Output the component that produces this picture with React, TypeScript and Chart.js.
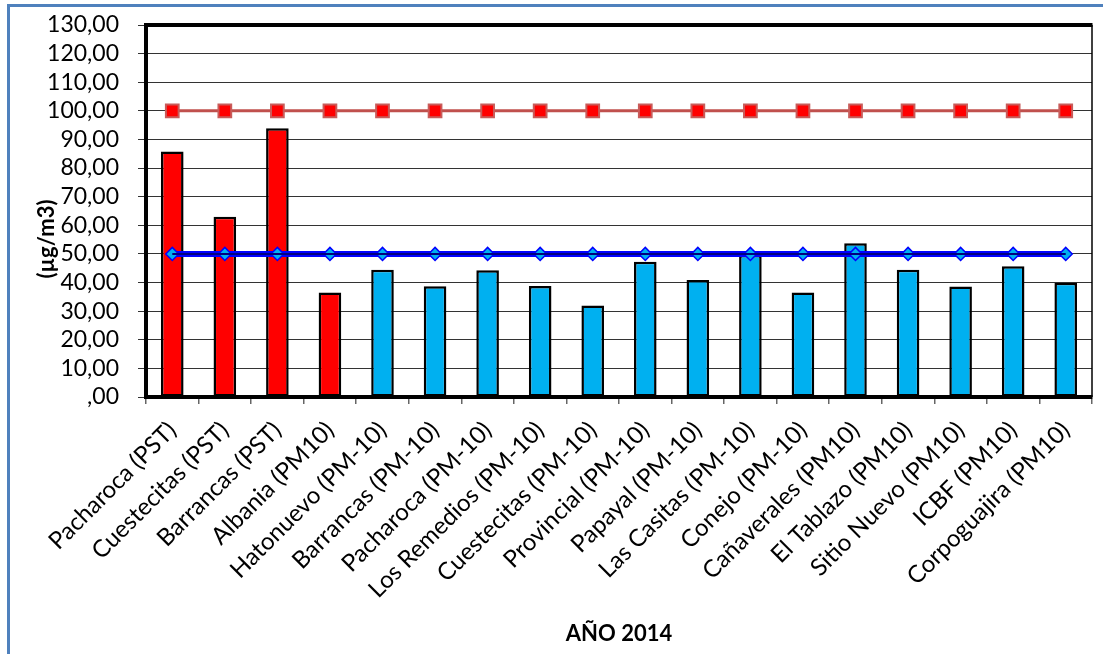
import { useEffect, useRef } from 'react';
import { Chart, registerables } from 'chart.js';

Chart.register(...registerables);

const categories = [
  'Pacharoca (PST)',
  'Cuestecitas (PST)',
  'Barrancas (PST)',
  'Albania (PM10)',
  'Hatonuevo (PM-10)',
  'Barrancas (PM-10)',
  'Pacharoca (PM-10)',
  'Los Remedios (PM-10)',
  'Cuestecitas (PM-10)',
  'Provincial (PM-10)',
  'Papayal (PM-10)',
  'Las Casitas (PM-10)',
  'Conejo (PM-10)',
  'Cañaverales (PM10)',
  'El Tablazo (PM10)',
  'Sitio Nuevo (PM10)',
  'ICBF (PM10)',
  'Corpoguajira (PM10)',
];

const concentrations = [
  85.8, 63.0, 93.9, 36.5, 44.5, 38.7, 44.3, 38.8, 32.0,
  47.3, 40.9, 49.6, 36.5, 53.7, 44.5, 38.6, 45.7, 39.9,
];

const pstLimit = [
  100, 100, 100, 100, 100, 100, 100, 100, 100,
  100, 100, 100, 100, 100, 100, 100, 100, 100,
];

const pm10Limit = [
  50, 50, 50, 50, 50, 50, 50, 50, 50,
  50, 50, 50, 50, 50, 50, 50, 50, 50,
];

const yTickValues = [0, 10, 20, 30, 40, 50, 60, 70, 80, 90, 100, 110, 120, 130];

const yTitle = '(µg/m3)';
const xTitle = 'AÑO 2014';

const RED_BARS = 4;
const W = 1103;
const H = 654;
const PLOT_LEFT = 146;
const PLOT_TOP = 25;
const PLOT_BOTTOM = 397;
const PLOT_RIGHT = 1101;
const FONT = 'Lato, "Open Sans", "Liberation Sans", sans-serif';

const fmt = (v: number) => (v === 0 ? ',00' : v.toFixed(2).replace('.', ','));

const framePlugin = {
  id: 'frameAndTitle',
  afterDraw(chart: any) {
    const { ctx, chartArea } = chart;
    ctx.save();
    ctx.strokeStyle = '#000';
    ctx.lineWidth = 4;
    ctx.beginPath();
    ctx.moveTo(chartArea.left - 2, chartArea.top);
    ctx.lineTo(chartArea.right + 0.5, chartArea.top);
    ctx.stroke();
    ctx.lineWidth = 1.5;
    ctx.beginPath();
    ctx.moveTo(chartArea.right, chartArea.top);
    ctx.lineTo(chartArea.right, chartArea.bottom);
    ctx.stroke();
    ctx.restore();

    ctx.save();
    ctx.translate(47, 239);
    ctx.rotate(-Math.PI / 2);
    ctx.font = `bold 22px ${FONT}`;
    ctx.fillStyle = '#000';
    ctx.textAlign = 'center';
    ctx.textBaseline = 'middle';
    ctx.fillText(yTitle, 0, 0);
    ctx.restore();
  },
};

export default function App() {
  const canvasRef = useRef<HTMLCanvasElement | null>(null);

  useEffect(() => {
    let chart: Chart | null = null;
    let cancelled = false;

    const build = () => {
      if (cancelled || !canvasRef.current) return;
      chart = new Chart(canvasRef.current, {
        type: 'bar',
        data: {
          labels: categories,
          datasets: [
            {
              type: 'line',
              label: 'core',
              data: pm10Limit,
              borderColor: '#000080',
              borderWidth: 2,
              pointRadius: 0,
              fill: false,
              order: 0,
            } as any,
            {
              type: 'line',
              label: 'Norma PM10',
              data: pm10Limit,
              borderColor: '#0000FF',
              borderWidth: 6,
              pointStyle: 'rectRot',
              pointRadius: 6.5,
              pointBackgroundColor: '#00B0F0',
              pointBorderColor: '#0000FF',
              pointBorderWidth: 1.5,
              fill: false,
              order: 1,
            } as any,
            {
              type: 'line',
              label: 'Norma PST',
              data: pstLimit,
              borderColor: '#C0504D',
              borderWidth: 3,
              pointStyle: 'rect',
              pointRadius: 9,
              pointBackgroundColor: '#FF0000',
              pointBorderColor: '#C85C5A',
              pointBorderWidth: 2,
              fill: false,
              order: 2,
            } as any,
            {
              type: 'bar',
              label: 'Concentración',
              data: concentrations,
              backgroundColor: concentrations.map((_, i) => (i < RED_BARS ? '#FF0000' : '#00B0F0')),
              borderColor: '#000',
              borderWidth: 2.5,
              borderSkipped: false,
              categoryPercentage: 1,
              barPercentage: 0.43,
              order: 3,
            } as any,
          ],
        },
        options: {
          responsive: false,
          animation: false,
          devicePixelRatio: 1,
          layout: { padding: { left: 0, top: PLOT_TOP, right: W - PLOT_RIGHT, bottom: 0 } },
          plugins: {
            legend: { display: false },
            tooltip: { enabled: false },
            title: { display: false },
          },
          scales: {
            x: {
              offset: true,
              grid: {
                offset: true,
                drawOnChartArea: false,
                drawTicks: true,
                tickLength: 7,
                color: '#666',
                lineWidth: 1.5,
              },
              border: { display: true, color: '#000', width: 4 },
              ticks: {
                autoSkip: false,
                maxRotation: 45,
                minRotation: 45,
                padding: 12,
                color: '#000',
                font: { family: FONT, size: 24 },
              },
              title: {
                display: true,
                text: xTitle,
                color: '#000',
                font: { family: FONT, size: 22, weight: 'bold' },
                padding: { top: 0, bottom: 7 },
              },
              afterFit: (scale: any) => {
                scale.height = H - PLOT_BOTTOM;
                scale.paddingLeft = 0;
                scale.paddingRight = 0;
              },
            },
            y: {
              min: 0,
              max: 130,
              afterBuildTicks: (scale: any) => {
                scale.ticks = yTickValues.map((v) => ({ value: v }));
              },
              grid: {
                color: '#333',
                lineWidth: 1,
                drawTicks: true,
                tickLength: 8,
                tickColor: '#333',
              },
              border: { display: true, color: '#000', width: 4 },
              ticks: {
                autoSkip: false,
                padding: 19,
                color: '#000',
                font: { family: FONT, size: 23 },
                callback: (v: any) => fmt(Number(v)),
              },
              afterFit: (scale: any) => {
                scale.width = PLOT_LEFT;
                scale.paddingTop = 0;
                scale.paddingBottom = 0;
              },
            },
          },
        } as any,
        plugins: [framePlugin],
      });
    };

    const fonts: any = (document as any).fonts;
    if (fonts && fonts.load) {
      Promise.all([fonts.load(`22px Lato`), fonts.load(`bold 22px Lato`)])
        .catch(() => undefined)
        .then(build);
    } else {
      build();
    }

    return () => {
      cancelled = true;
      if (chart) chart.destroy();
    };
  }, []);

  return (
    <div
      style={{
        position: 'fixed',
        left: 0,
        top: 0,
        width: W,
        height: H,
        overflow: 'hidden',
        background: '#fff',
      }}
    >
      <canvas
        ref={canvasRef}
        width={W}
        height={H}
        style={{ position: 'absolute', left: 0, top: 0, width: W, height: H }}
      />
      <div
        style={{
          position: 'absolute',
          left: 7,
          top: 4,
          width: W + 100,
          height: H + 100,
          border: '3px solid #4F81BD',
          pointerEvents: 'none',
        }}
      />
    </div>
  );
}
